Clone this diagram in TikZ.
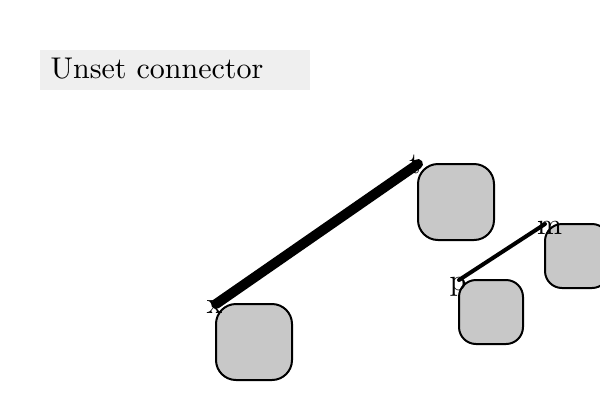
\documentclass[tikz,border=0pt]{standalone}
\definecolor{titlebg}{HTML}{EFEFEF}
\definecolor{boxfill}{HTML}{C8C8C8}
\tikzset{
  rbox/.style={draw=black, line width=2pt, fill=boxfill, rounded corners=#1, inner sep=0pt, outer sep=0pt, anchor=north west},
  bigbox/.style={rbox=20pt, minimum width=76pt, minimum height=76pt},
  smallbox/.style={rbox=17pt, minimum width=64pt, minimum height=64pt},
  conn/.style={draw=black, line cap=round},
  lbl/.style={inner sep=0pt, anchor=base, scale=3, font=\fontsize{10}{12}\selectfont}
}
\begin{document}
\begin{tikzpicture}[x=1pt,y=-1pt]
\useasboundingbox (0,0) rectangle (600,400);
\clip (0,0) rectangle (600,400);
\fill[titlebg] (40,50) rectangle (310,90);
\node[anchor=base west, inner sep=0pt, scale=3, font=\fontsize{10}{12}\selectfont] (title) at (50,78) {Unset connector};
\node[bigbox] (A) at (216,304) {};
\node[bigbox] (B) at (418,164) {};
\node[smallbox] (C) at (545,224) {};
\node[smallbox] (D) at (459,280) {};
\node[lbl] (lx) at ([xshift=-1.5pt,yshift=-9pt]A.north west) {x};
\node[lbl] (lt) at ([xshift=-3pt,yshift=-9pt]B.north west) {t};
\node[lbl] (lp) at ([xshift=-1pt,yshift=-10pt]D.north west) {p};
\node[lbl] (lm) at ([xshift=4.5pt,yshift=-10pt]C.north west) {m};
\draw[conn, line width=10pt] (A.north west) -- (B.north west);
\draw[conn, line width=4pt] (D.north west) -- (C.north west);
\end{tikzpicture}
\end{document}
